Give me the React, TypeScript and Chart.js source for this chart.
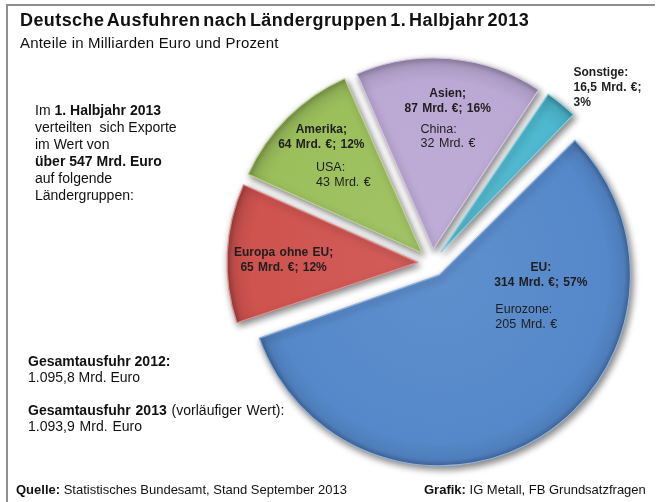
import React, { useEffect, useRef } from 'react';
import { Chart, registerables } from 'chart.js';

Chart.register(...registerables);

// ---- data ----
const categories = ['EU', 'Europa ohne EU', 'Amerika', 'Asien', 'Sonstige'];
const headers = ['EU:', 'Europa ohne EU;', 'Amerika;', 'Asien;', 'Sonstige:'];
const valuesBn = [314, 65, 64, 87, 16.5];
const sharesPct = [57, 12, 12, 16, 3];
const subNames = ['Eurozone:', '', 'USA:', 'China:', ''];
const subValuesBn = [205, 0, 43, 32, 0];
const sliceColors = ['#5588CA', '#CF534F', '#9CBF5C', '#BBA8D4', '#4DB8CF'];

const titleText = 'Deutsche Ausfuhren nach Ländergruppen 1. Halbjahr 2013';
const subtitleText = 'Anteile in Milliarden Euro und Prozent';

// ---- layout ----
const RADIUS = 191;
const EXPLODE = 14;
const START_DEG = 44.5;
// label anchors: [angle clockwise from top (deg), radius fraction, align, split value line]
const mainLabelPos: [number, number, CanvasTextAlign, boolean][] = [
  [90.3, 0.531, 'center', false],
  [270.85, 0.704, 'center', false],
  [318.9, 0.803, 'center', false],
  [5.6, 0.776, 'center', false],
  [38.86, 1.107, 'left', true],
];
const subLabelPos: ([number, number] | null)[] = [
  [126.9, 0.366],
  null,
  [306.3, 0.69],
  [353.6, 0.593],
  null,
];

const FONT = '"Liberation Sans", Arial, Helvetica, sans-serif';
const fmt = (v: number) => String(v).replace('.', ',');

function shade(hex: string, amt: number) {
  const n = parseInt(hex.slice(1), 16);
  let r = (n >> 16) & 255, g = (n >> 8) & 255, b = n & 255;
  const f = (c: number) => Math.max(0, Math.min(255, Math.round(amt >= 0 ? c + (255 - c) * amt : c * (1 + amt))));
  r = f(r); g = f(g); b = f(b);
  return `rgb(${r},${g},${b})`;
}

const explodedPiePlugin = {
  id: 'explodedPie',
  afterDatasetUpdate(chart: any, args: any) {
    const meta = args.meta;
    meta.data.forEach((arc: any) => {
      const off = ((arc.options && arc.options.offset) || 0) / 4;
      const circ = arc.circumference ?? (arc.endAngle - arc.startAngle);
      const fix = 1 - Math.sin(Math.min(Math.PI, circ || 0));
      arc.outerRadius = RADIUS - off * fix;
    });
  },
  beforeDatasetsDraw(chart: any) {
    const ctx = chart.ctx;
    ctx.save();
    ctx.shadowColor = 'rgba(0,0,0,0.5)';
    ctx.shadowBlur = 7;
    ctx.shadowOffsetX = 2;
    ctx.shadowOffsetY = 3;
  },
  afterDatasetsDraw(chart: any) {
    const ctx = chart.ctx;
    ctx.restore();
    const meta = chart.getDatasetMeta(0);
    ctx.save();
    ctx.fillStyle = '#1e1e1e';
    ctx.textBaseline = 'middle';
    try { (ctx as any).wordSpacing = '1px'; } catch (e) {}
    meta.data.forEach((arc: any, i: number) => {
      const mid = (arc.startAngle + arc.endAngle) / 2;
      const cx = arc.x + Math.cos(mid) * EXPLODE;
      const cy = arc.y + Math.sin(mid) * EXPLODE;
      const [deg, fr, align, split] = mainLabelPos[i];
      const t = (deg * Math.PI) / 180;
      const x = cx + fr * RADIUS * Math.sin(t);
      const y = cy - fr * RADIUS * Math.cos(t);
      const lines = split
        ? [headers[i], `${fmt(valuesBn[i])} Mrd. €;`, `${sharesPct[i]}%`]
        : [headers[i], `${fmt(valuesBn[i])} Mrd. €; ${sharesPct[i]}%`];
      ctx.font = `bold 12px ${FONT}`;
      ctx.textAlign = align;
      const lh = 15;
      lines.forEach((l, k) => {
        ctx.fillText(l, x, y + (k - (lines.length - 1) / 2) * lh);
      });
      const sp = subLabelPos[i];
      if (sp && subNames[i]) {
        const ts = (sp[0] * Math.PI) / 180;
        const sx = cx + sp[1] * RADIUS * Math.sin(ts);
        const sy = cy - sp[1] * RADIUS * Math.cos(ts);
        ctx.font = `12.5px ${FONT}`;
        ctx.textAlign = 'left';
        const sl = [subNames[i], `${fmt(subValuesBn[i])} Mrd. €`];
        sl.forEach((l, k) => {
          ctx.fillText(l, sx, sy + (k - 0.5) * 14.5);
        });
      }
    });
    ctx.restore();
  },
};

export default function App() {
  const canvasRef = useRef<HTMLCanvasElement | null>(null);

  useEffect(() => {
    if (!canvasRef.current) return;
    const chart = new Chart(canvasRef.current, {
      type: 'pie',
      data: {
        labels: categories,
        datasets: [
          {
            data: valuesBn,
            backgroundColor: (c: any) => {
              const base = sliceColors[c.dataIndex] || '#888';
              const area = c.chart.chartArea;
              if (!area) return base;
              const cx = (area.left + area.right) / 2;
              const cy = (area.top + area.bottom) / 2;
              const g = c.chart.ctx.createRadialGradient(cx, cy, 0, cx, cy, RADIUS);
              g.addColorStop(0, shade(base, 0.06));
              g.addColorStop(0.88, base);
              g.addColorStop(0.97, shade(base, -0.08));
              g.addColorStop(1, shade(base, -0.25));
              return g;
            },
            borderColor: sliceColors.map((c) => shade(c, 0.35)),
            borderWidth: 1.2,
            offset: EXPLODE * 4,
            hoverOffset: EXPLODE * 4,
            radius: RADIUS,
          } as any,
        ],
      },
      options: {
        responsive: false,
        maintainAspectRatio: false,
        animation: false,
        rotation: START_DEG,
        layout: { padding: { left: 211, right: 10, top: 34, bottom: 10 } },
        plugins: {
          legend: { display: false },
          tooltip: { enabled: false },
          title: { display: false },
        },
        events: [],
      } as any,
      plugins: [explodedPiePlugin],
    });
    return () => chart.destroy();
  }, []);

  const txt: React.CSSProperties = {
    position: 'absolute',
    fontFamily: FONT,
    color: '#111',
    whiteSpace: 'nowrap',
    margin: 0,
  };

  return (
    <div
      style={{
        position: 'absolute',
        left: 0,
        top: 0,
        width: 663,
        height: 502,
        overflow: 'hidden',
        background: '#fff',
      }}
    >
      <div
        style={{
          position: 'absolute',
          left: 6,
          top: 4,
          width: 649,
          height: 510,
          borderTop: '2px solid #8f8f8f',
          borderLeft: '2px solid #8f8f8f',
          boxSizing: 'border-box',
        }}
      />
      <canvas
        ref={canvasRef}
        width={663}
        height={502}
        style={{ position: 'absolute', left: 0, top: 0, width: 663, height: 502 }}
      />
      <div style={{ ...txt, left: 20, top: 9, fontSize: 18, lineHeight: '22px', fontWeight: 'bold', wordSpacing: -2.5, letterSpacing: 0.42 }}>
        {titleText}
      </div>
      <div style={{ ...txt, left: 20, top: 34, fontSize: 15, lineHeight: '18px', letterSpacing: 0.2 }}>{subtitleText}</div>

      <div style={{ ...txt, left: 35, top: 102, fontSize: 14, lineHeight: '17px' }}>
        Im <b>1. Halbjahr 2013</b>
        <br />
        verteilten&nbsp; sich Exporte
        <br />
        im Wert von
        <br />
        <b>über 547 Mrd. Euro</b>
        <br />
        auf folgende
        <br />
        Ländergruppen:
      </div>

      <div style={{ ...txt, left: 28, top: 353, fontSize: 14, lineHeight: '16px' }}>
        <b>Gesamtausfuhr 2012:</b>
        <br />
        1.095,8 Mrd. Euro
      </div>
      <div style={{ ...txt, left: 28, top: 402, fontSize: 14, lineHeight: '16px', wordSpacing: 1 }}>
        <b>Gesamtausfuhr 2013</b> (vorläufiger Wert):
        <br />
        1.093,9 Mrd. Euro
      </div>

      <div style={{ ...txt, left: 16, top: 482, fontSize: 13, lineHeight: '16px' }}>
        <b>Quelle:</b> Statistisches Bundesamt, Stand September 2013
      </div>
      <div style={{ ...txt, left: 424, top: 482, fontSize: 13, lineHeight: '16px' }}>
        <b>Grafik:</b> IG Metall, FB Grundsatzfragen
      </div>
    </div>
  );
}
